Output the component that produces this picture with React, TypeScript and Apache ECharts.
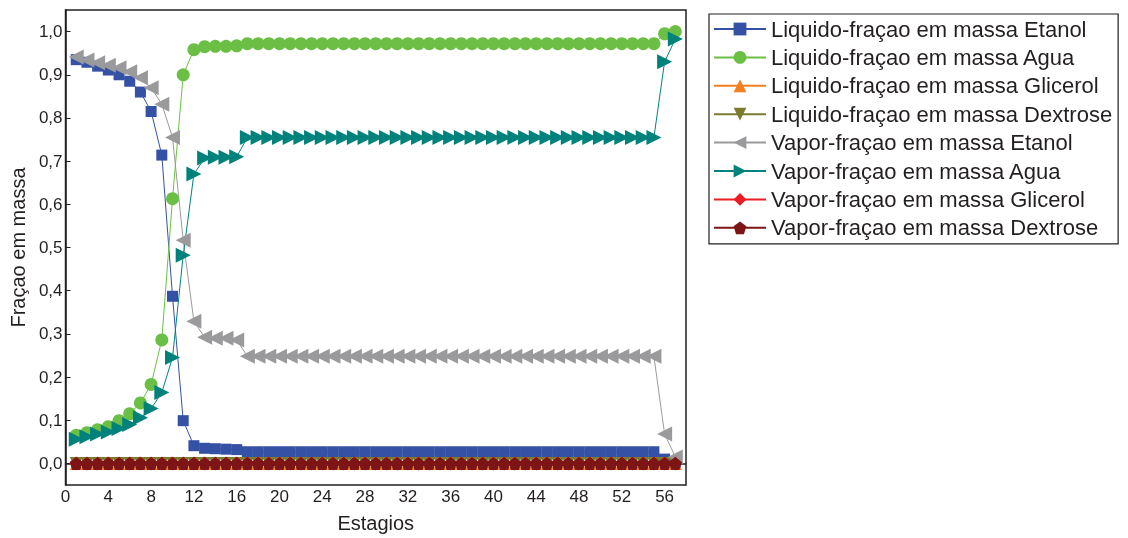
import React, { useEffect, useRef } from "react";
import * as echarts from "echarts";

const stages = [1,2,3,4,5,6,7,8,9,10,11,12,13,14,15,16,17,18,19,20,21,22,23,24,25,26,27,28,29,30,31,32,33,34,35,36,37,38,39,40,41,42,43,44,45,46,47,48,49,50,51,52,53,54,55,56,57];

const liqEtanol = [0.935,0.929,0.920,0.911,0.900,0.885,0.860,0.815,0.714,0.387,0.099,0.041,0.035,0.034,0.033,0.032,
  0.027,0.027,0.027,0.027,0.027,0.027,0.027,0.027,0.027,0.027,0.027,0.027,0.027,0.027,0.027,0.027,0.027,0.027,0.027,0.027,
  0.027,0.027,0.027,0.027,0.027,0.027,0.027,0.027,0.027,0.027,0.027,0.027,0.027,0.027,0.027,0.027,0.027,0.027,0.027,
  0.010,0.003];
const liqAgua = [0.065,0.071,0.078,0.085,0.099,0.115,0.140,0.183,0.286,0.613,0.900,0.958,0.965,0.966,0.966,0.967,
  0.972,0.972,0.972,0.972,0.972,0.972,0.972,0.972,0.972,0.972,0.972,0.972,0.972,0.972,0.972,0.972,0.972,0.972,0.972,0.972,
  0.972,0.972,0.972,0.972,0.972,0.972,0.972,0.972,0.972,0.972,0.972,0.972,0.972,0.972,0.972,0.972,0.972,0.972,0.972,
  0.995,1.000];
const liqGlicerol = [0,0,0,0,0,0,0,0,0,0,0,0,0,0,0,0,0,0,0,0,0,0,0,0,0,0,0,0,0,0,0,0,0,0,0,0,0,0,0,0,0,0,0,0,0,0,0,0,0,0,0,0,0,0,0,0,0];
const liqDextrose = [0,0,0,0,0,0,0,0,0,0,0,0,0,0,0,0,0,0,0,0,0,0,0,0,0,0,0,0,0,0,0,0,0,0,0,0,0,0,0,0,0,0,0,0,0,0,0,0,0,0,0,0,0,0,0,0,0];
const vapEtanol = [0.941,0.934,0.928,0.922,0.916,0.907,0.893,0.870,0.832,0.755,0.517,0.329,0.292,0.290,0.290,0.286,
  0.248,0.248,0.248,0.248,0.248,0.248,0.248,0.248,0.248,0.248,0.248,0.248,0.248,0.248,0.248,0.248,0.248,0.248,0.248,0.248,
  0.248,0.248,0.248,0.248,0.248,0.248,0.248,0.248,0.248,0.248,0.248,0.248,0.248,0.248,0.248,0.248,0.248,0.248,0.248,
  0.068,0.015];
const vapAgua = [0.056,0.062,0.068,0.073,0.081,0.090,0.106,0.127,0.164,0.245,0.482,0.670,0.707,0.709,0.709,0.710,
  0.755,0.755,0.755,0.755,0.755,0.755,0.755,0.755,0.755,0.755,0.755,0.755,0.755,0.755,0.755,0.755,0.755,0.755,0.755,0.755,
  0.755,0.755,0.755,0.755,0.755,0.755,0.755,0.755,0.755,0.755,0.755,0.755,0.755,0.755,0.755,0.755,0.755,0.755,0.755,
  0.930,0.983];
const vapGlicerol = [0,0,0,0,0,0,0,0,0,0,0,0,0,0,0,0,0,0,0,0,0,0,0,0,0,0,0,0,0,0,0,0,0,0,0,0,0,0,0,0,0,0,0,0,0,0,0,0,0,0,0,0,0,0,0,0,0];
const vapDextrose = [0,0,0,0,0,0,0,0,0,0,0,0,0,0,0,0,0,0,0,0,0,0,0,0,0,0,0,0,0,0,0,0,0,0,0,0,0,0,0,0,0,0,0,0,0,0,0,0,0,0,0,0,0,0,0,0,0];

const xTicks = [0,4,8,12,16,20,24,28,32,36,40,44,48,52,56];
const yTicks = [0,0.1,0.2,0.3,0.4,0.5,0.6,0.7,0.8,0.9,1.0];

const PENTAGON = "path://M0,-1 L0.951,-0.309 L0.588,0.809 L-0.588,0.809 L-0.951,-0.309 Z";

const seriesDefs = [
  { name: "Liquido-fraçao em massa Etanol", data: liqEtanol, color: "#3451a6", symbol: "rect", size: 11, rotate: 0 },
  { name: "Liquido-fraçao em massa Agua", data: liqAgua, color: "#6cbf45", symbol: "circle", size: 13, rotate: 0 },
  { name: "Liquido-fraçao em massa Glicerol", data: liqGlicerol, color: "#f57f20", symbol: "triangle", size: 13, rotate: 0 },
  { name: "Liquido-fraçao em massa Dextrose", data: liqDextrose, color: "#7d7b2e", symbol: "triangle", size: 13, rotate: 180 },
  { name: "Vapor-fraçao em massa Etanol", data: vapEtanol, color: "#9a9a9c", symbol: "triangle", size: 15, rotate: 90 },
  { name: "Vapor-fraçao em massa Agua", data: vapAgua, color: "#00827c", symbol: "triangle", size: 15, rotate: -90 },
  { name: "Vapor-fraçao em massa Glicerol", data: vapGlicerol, color: "#ec1c24", symbol: "diamond", size: 14, rotate: 0 },
  { name: "Vapor-fraçao em massa Dextrose", data: vapDextrose, color: "#7d1416", symbol: PENTAGON, size: 13, rotate: 0 },
];

const fmt = (v: number) => v.toFixed(1).replace(".", ",");

export default function App() {
  const ref = useRef<HTMLDivElement>(null);
  useEffect(() => {
    if (!ref.current) return;
    const chart = echarts.init(ref.current, null, { renderer: "svg" });
    const font = "Liberation Sans, Arial, sans-serif";
    chart.setOption({
      animation: false,
      textStyle: { fontFamily: font },
      grid: { left: 63, right: 442, top: 10, bottom: 51, show: true, borderColor: "#231f20", borderWidth: 1.5, backgroundColor: "transparent" },
      legend: {
        orient: "vertical",
        left: 709,
        top: 14,
        padding: [4, 6, 5, 4],
        borderColor: "#231f20",
        borderWidth: 1.2,
        itemWidth: 52,
        itemHeight: 16,
        itemGap: 6.4,
        textStyle: { fontSize: 22, color: "#231f20", fontFamily: font, lineHeight: 22 },
        data: seriesDefs.map((s) => s.name),
      },
      xAxis: {
        type: "value",
        min: 0,
        max: 58,
        name: "Estagios",
        nameLocation: "middle",
        nameGap: 28,
        nameTextStyle: { fontSize: 20, color: "#231f20", fontFamily: font },
        axisLine: { show: true, lineStyle: { color: "#231f20", width: 1.5 } },
        axisTick: { show: true, inside: true, length: 5, customValues: xTicks, lineStyle: { color: "#231f20" } },
        axisLabel: { customValues: xTicks, fontSize: 17, color: "#231f20", margin: 3, fontFamily: font },
        splitLine: { show: false },
      },
      yAxis: {
        type: "value",
        min: -0.05,
        max: 1.05,
        name: "Fraçao em massa",
        nameLocation: "middle",
        nameGap: 33,
        nameTextStyle: { fontSize: 20, color: "#231f20", fontFamily: font },
        axisLine: { show: true, lineStyle: { color: "#231f20", width: 1.5 } },
        axisTick: { show: true, inside: true, length: 5, customValues: yTicks, lineStyle: { color: "#231f20" } },
        axisLabel: { customValues: yTicks, fontSize: 17, color: "#231f20", margin: 3, fontFamily: font, formatter: (v: number) => fmt(v) },
        splitLine: { show: false },
      },
      series: seriesDefs.map((s) => ({
        name: s.name,
        type: "line",
        data: stages.map((x, i) => [x, s.data[i]]),
        symbol: s.symbol,
        symbolSize: s.size,
        symbolRotate: s.rotate,
        showAllSymbol: true,
        lineStyle: { color: s.color, width: 1 },
        itemStyle: { color: s.color },
        color: s.color,
      })),
    });
    return () => chart.dispose();
  }, []);
  return <div ref={ref} style={{ position: "fixed", left: 0, top: 0, width: 1128, height: 538 }} />;
}
